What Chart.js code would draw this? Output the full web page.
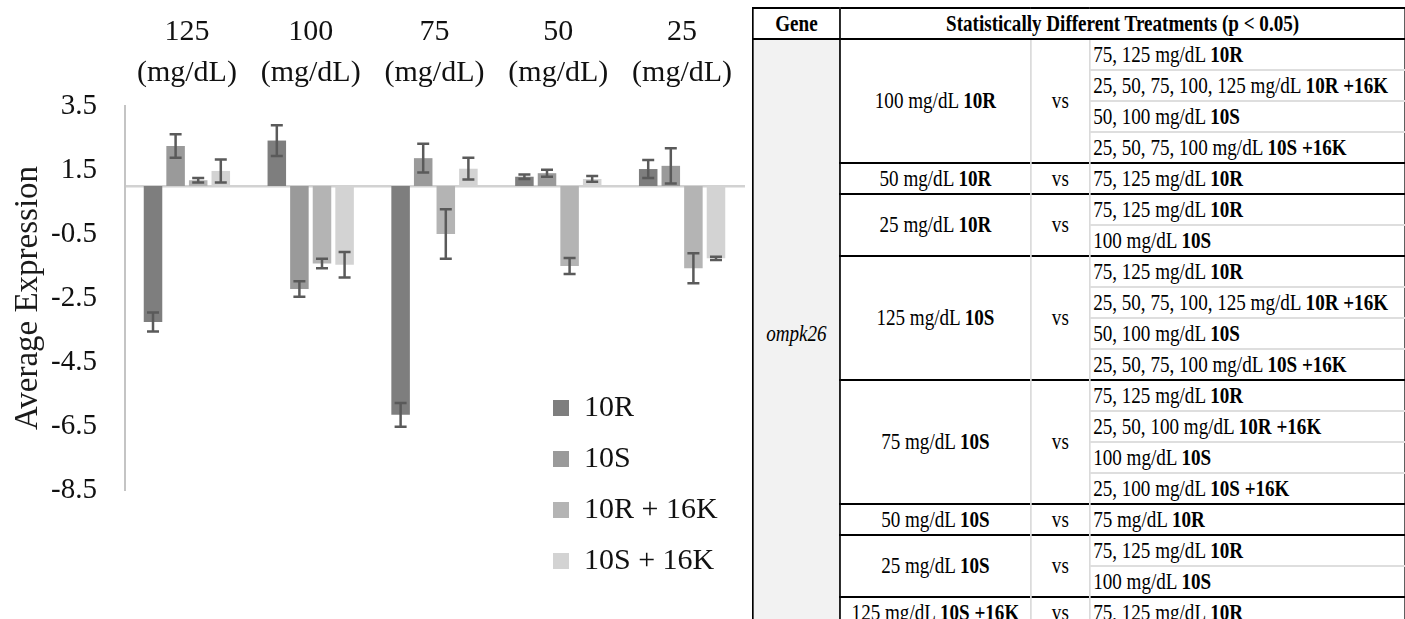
<!DOCTYPE html>
<html>
<head>
<meta charset="utf-8">
<title>ompk26 average expression</title>
<script src="https://cdn.jsdelivr.net/npm/chart.js@4/dist/chart.umd.min.js"></script>
<style>
  html, body { margin: 0; padding: 0; background: #fff; width: 1405px; height: 619px; overflow: hidden; }
  #chart-box { position: absolute; left: 0; top: 0; width: 750px; height: 619px; }
  #table-box { position: absolute; left: 752px; top: 7px; transform: scaleX(0.83); transform-origin: 0 0; }
  #stats { border-collapse: collapse; table-layout: fixed; width: 786px;
           font-family: 'Liberation Serif', 'Times New Roman', serif; font-size: 23px; color: #000;
           border: 2px solid #000; }
  #stats th, #stats td { padding: 0; line-height: 26px; white-space: nowrap; border: none; }
  #stats tr { height: 31px; }
  #stats th { font-weight: bold; text-align: center; border-bottom: 2px solid #000; }
  #stats th.gene { border-right: 2px solid #000; }
  #stats td.gene { background: #f2f2f2; border-right: 2px solid #000; text-align: center; font-style: italic; }
  #stats td.ref { text-align: center; border-right: 2px solid #dadada; }
  #stats td.vs { text-align: center; border-right: 2px solid #dadada; }
  #stats td.item { text-align: left; padding-left: 3px; }
  #stats td.sub { border-top: 2px solid #dedede; }
  #stats td.grp { border-top: 2px solid #000; }
</style>
</head>
<body>
<div id="chart-box"><canvas id="expr"></canvas></div>
<div id="table-box">
  <table id="stats">
    <colgroup><col style="width:105px"><col style="width:230px"><col style="width:71px"><col style="width:380px"></colgroup>
    <thead><tr><th class="gene">Gene</th><th colspan="3">Statistically Different Treatments (p &lt; 0.05)</th></tr></thead>
    <tbody></tbody>
  </table>
</div>
<script>
// Glucose concentrations on the category axis
const categories = [['125', '(mg/dL)'], ['100', '(mg/dL)'], ['75', '(mg/dL)'], ['50', '(mg/dL)'], ['25', '(mg/dL)']];
const seriesNames = ['10R', '10S', '10R + 16K', '10S + 16K'];

// Mean relative expression and standard error per treatment
const mean10R    = [-3.25, 2.42, -6.15, 1.29, 1.53];
const err10R     = [0.30, 0.48, 0.37, 0.07, 0.28];
const mean10S    = [2.25, -2.22, 1.87, 1.40, 1.63];
const err10S     = [0.37, 0.24, 0.45, 0.11, 0.55];
const mean10R16K = [1.18, -1.42, -0.50, -1.50, -1.57];
const err10R16K  = [0.07, 0.15, 0.77, 0.25, 0.47];
const mean10S16K = [1.47, -1.46, 1.54, 1.22, -1.26];
const err10S16K  = [0.36, 0.40, 0.34, 0.09, 0.05];

const yTicks = [3.5, 1.5, -0.5, -2.5, -4.5, -6.5, -8.5];
const baseline = 1;   // bars grow from a fold change of 1

const seriesColors = ['#7e7e7e', '#9a9a9a', '#b4b4b4', '#d3d3d3'];

// Pairwise comparisons for ompk26: [plain text, bold text]
const geneName = 'ompk26';
const comparisons = [
  { ref: ['100 mg/dL ', '10R'], against: [['75, 125 mg/dL ', '10R'], ['25, 50, 75, 100, 125 mg/dL ', '10R +16K'], ['50, 100 mg/dL ', '10S'], ['25, 50, 75, 100 mg/dL ', '10S +16K']] },
  { ref: ['50 mg/dL ', '10R'], against: [['75, 125 mg/dL ', '10R']] },
  { ref: ['25 mg/dL ', '10R'], against: [['75, 125 mg/dL ', '10R'], ['100 mg/dL ', '10S']] },
  { ref: ['125 mg/dL ', '10S'], against: [['75, 125 mg/dL ', '10R'], ['25, 50, 75, 100, 125 mg/dL ', '10R +16K'], ['50, 100 mg/dL ', '10S'], ['25, 50, 75, 100 mg/dL ', '10S +16K']] },
  { ref: ['75 mg/dL ', '10S'], against: [['75, 125 mg/dL ', '10R'], ['25, 50, 100 mg/dL ', '10R +16K'], ['100 mg/dL ', '10S'], ['25, 100 mg/dL ', '10S +16K']] },
  { ref: ['50 mg/dL ', '10S'], against: [['75 mg/dL ', '10R']] },
  { ref: ['25 mg/dL ', '10S'], against: [['75, 125 mg/dL ', '10R'], ['100 mg/dL ', '10S']] },
  { ref: ['125 mg/dL ', '10S +16K'], against: [['75, 125 mg/dL ', '10R']] }
];

// ---- comparison table ----
function richCell(cls, parts) {
  const td = document.createElement('td');
  td.className = cls;
  td.append(parts[0]);
  const b = document.createElement('b');
  b.textContent = parts[1];
  td.append(b);
  return td;
}
const tbody = document.querySelector('#stats tbody');
const totalRows = comparisons.reduce((n, g) => n + g.against.length, 0);
comparisons.forEach((g, gi) => {
  g.against.forEach((t, ti) => {
    const tr = document.createElement('tr');
    if (gi === 0 && ti === 0) {
      const gene = document.createElement('td');
      gene.className = 'gene';
      gene.rowSpan = totalRows;
      gene.textContent = geneName;
      tr.append(gene);
    }
    const edge = (ti === 0 && gi > 0) ? ' grp' : '';
    if (ti === 0) {
      const ref = richCell('ref' + edge, g.ref);
      ref.rowSpan = g.against.length;
      const vs = document.createElement('td');
      vs.className = 'vs' + edge;
      vs.rowSpan = g.against.length;
      vs.textContent = 'vs';
      tr.append(ref, vs);
    }
    tr.append(richCell('item' + (ti > 0 ? ' sub' : edge), t));
    tbody.append(tr);
  });
});

// ---- chart ----
const errorBars = {
  id: 'errorBars',
  afterDatasetsDraw(chart, args, opts) {
    const { ctx } = chart;
    const y = chart.scales.y;
    ctx.save();
    ctx.strokeStyle = opts.color;
    ctx.lineWidth = opts.width;
    chart.data.datasets.forEach((ds, i) => {
      const meta = chart.getDatasetMeta(i);
      if (meta.hidden) return;
      meta.data.forEach((bar, j) => {
        const v = ds.data[j], e = ds.errors[j];
        const top = y.getPixelForValue(v + e);
        const bot = y.getPixelForValue(v - e);
        const h = opts.cap / 2;
        ctx.beginPath();
        ctx.moveTo(bar.x, top); ctx.lineTo(bar.x, bot);
        ctx.moveTo(bar.x - h, top); ctx.lineTo(bar.x + h, top);
        ctx.moveTo(bar.x - h, bot); ctx.lineTo(bar.x + h, bot);
        ctx.stroke();
      });
    });
    ctx.restore();
  }
};

// keeps the legend in the lower right of the plot area
const legendInside = {
  id: 'legendInside',
  afterLayout(chart, args, opts) {
    const lg = chart.legend;
    if (!lg) return;
    lg.left = opts.x;
    lg.top = opts.y;
    lg.right = chart.width;
    lg.bottom = chart.height;
  }
};

const means = [mean10R, mean10S, mean10R16K, mean10S16K];
const errors = [err10R, err10S, err10R16K, err10S16K];

Chart.defaults.font.family = "'Liberation Serif', 'Times New Roman', serif";

new Chart(document.getElementById('expr'), {
  type: 'bar',
  data: {
    labels: categories,
    datasets: seriesNames.map((name, i) => ({
      label: name,
      data: means[i],
      errors: errors[i],
      base: baseline,
      backgroundColor: seriesColors[i],
      borderWidth: 0,
      categoryPercentage: 0.73,
      barPercentage: 0.82
    }))
  },
  options: {
    responsive: true,
    maintainAspectRatio: false,
    animation: false,
    devicePixelRatio: 1,
    layout: { padding: { top: 11, bottom: 129, left: 0, right: 6 } },
    scales: {
      x: {
        position: 'top',
        offset: true,
        grid: { display: false, drawTicks: false },
        border: { display: false },
        ticks: { color: '#111', padding: 12.5, maxRotation: 0, autoSkip: false,
                 font: { size: 30, lineHeight: 1.37 } },
        afterFit(scale) { scale.height = 95; }
      },
      xBase: {
        type: 'category',
        axis: 'x',
        position: { y: baseline },
        grid: { display: false, drawTicks: false },
        ticks: { display: false },
        border: { color: '#d2d2d2', width: 2.5 }
      },
      y: {
        min: -8.5,
        max: 3.5,
        afterBuildTicks(scale) { scale.ticks = yTicks.map(v => ({ value: v })); },
        grid: { display: false, drawTicks: false },
        border: { color: '#c4c4c4', width: 2 },
        ticks: { color: '#111', padding: 28, font: { size: 29 },
                 callback: v => v.toFixed(1) },
        title: { display: true, text: 'Average Expression', color: '#1a1a1a',
                 font: { size: 33 }, padding: { top: 9, bottom: 0 } },
        afterFit(scale) { scale.width = 125; }
      }
    },
    plugins: {
      legend: {
        position: 'chartArea',
        align: 'start',
        labels: { boxWidth: 16, boxHeight: 16, padding: 21, color: '#111',
                  font: { size: 30 } }
      },
      tooltip: { enabled: false },
      errorBars: { color: '#5a5a5a', width: 2.5, cap: 12 },
      legendInside: { x: 532, y: 372 }
    }
  },
  plugins: [errorBars, legendInside]
});
</script>
</body>
</html>
